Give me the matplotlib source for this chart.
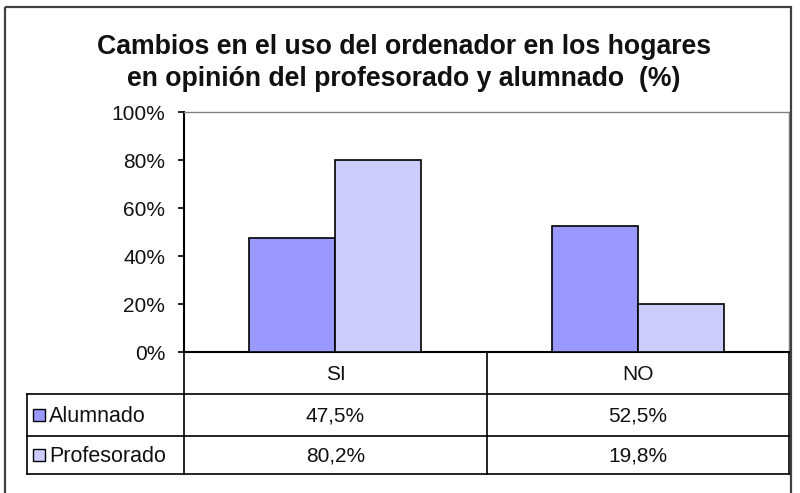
import matplotlib
matplotlib.use("Agg")
import matplotlib.pyplot as plt
from matplotlib.patches import Rectangle
import numpy as np

plt.rcParams['font.family'] = ['Liberation Sans', 'DejaVu Sans']

title = "Cambios en el uso del ordenador en los hogares\nen opinión del profesorado y alumnado  (%)"
categories = ["SI", "NO"]
series_names = ["Alumnado", "Profesorado"]
alumnado = [47.5, 52.5]
profesorado = [80.2, 19.8]
colors = ["#9999FF", "#CCCCFF"]
yticks = [0, 20, 40, 60, 80, 100]

W, H = 800, 493
fig = plt.figure(figsize=(W / 100, H / 100), dpi=100)

def fx(x):
    return x / W

def fy(y):
    return 1 - y / H

FS = 15
TXT = "#111111"

# plot area in pixel terms
L, R, T, B = 184, 789, 112, 352
ax = fig.add_axes([fx(L), fy(B), fx(R) - fx(L), fy(T) - fy(B)])
x = np.arange(len(categories))
bw = 0.285
ax.bar(x - bw / 2, alumnado, bw, color=colors[0], edgecolor="black", linewidth=1.2, zorder=3)
ax.bar(x + bw / 2, profesorado, bw, color=colors[1], edgecolor="black", linewidth=1.2, zorder=3)
ax.set_xlim(-0.5, len(categories) - 0.5)
ax.set_ylim(0, 100)
ax.set_yticks(yticks)
ax.set_yticklabels([f"{v}%" for v in yticks], fontsize=FS, color=TXT)
ax.set_xticks([])
ax.tick_params(axis="y", direction="out", length=4.5, width=1.2, pad=9)
for s in ["top", "right"]:
    ax.spines[s].set_color("#808080")
    ax.spines[s].set_linewidth(1.0)
ax.spines["left"].set_linewidth(1.5)
ax.spines["bottom"].set_linewidth(1.5)

# overlay for table and frame
ov = fig.add_axes([0, 0, 1, 1], zorder=5)
ov.set_xlim(0, W)
ov.set_ylim(H, 0)
ov.axis("off")
ov.patch.set_alpha(0)

# outer frame
ov.add_patch(Rectangle((4.5, 7), 786, 495, fill=False, edgecolor="#404040", linewidth=1.6))

# title
fig.text(0.505, fy(63), title, ha="center", va="center", fontsize=19.2, fontweight="bold",
         linespacing=1.28, color=TXT)

# data table
tl = 27
rows_y = [352, 394, 436, 474]
col_x = [L, 487, R]
lc = "black"
lw = 1.2
for ry in rows_y[1:]:
    ov.plot([tl, R], [ry, ry], color=lc, lw=lw)
ov.plot([tl, tl], [rows_y[1], rows_y[3]], color=lc, lw=lw)
for cx in col_x:
    ov.plot([cx, cx], [rows_y[0], rows_y[3]], color=lc, lw=lw)

col_centers = [(col_x[i] + col_x[i + 1]) / 2 for i in range(len(categories))]
for c, cx in zip(categories, col_centers):
    ov.text(cx, (rows_y[0] + rows_y[1]) / 2 + 1, c, ha="center", va="center", fontsize=FS, color=TXT)

series = [alumnado, profesorado]
for i, (name, vals) in enumerate(zip(series_names, series)):
    yc = (rows_y[i + 1] + rows_y[i + 2]) / 2
    ov.add_patch(Rectangle((33, yc - 6), 12, 12, facecolor=colors[i], edgecolor="black", linewidth=1.0))
    ov.text(49, yc + 1, name, ha="left", va="center", fontsize=15.5, color=TXT)
    for v, cx in zip(vals, col_centers):
        ov.text(cx, yc + 1, f"{v:.1f}%".replace(".", ","), ha="center", va="center",
                fontsize=FS, color=TXT)

fig.savefig("out.png", dpi=100, facecolor="white")
